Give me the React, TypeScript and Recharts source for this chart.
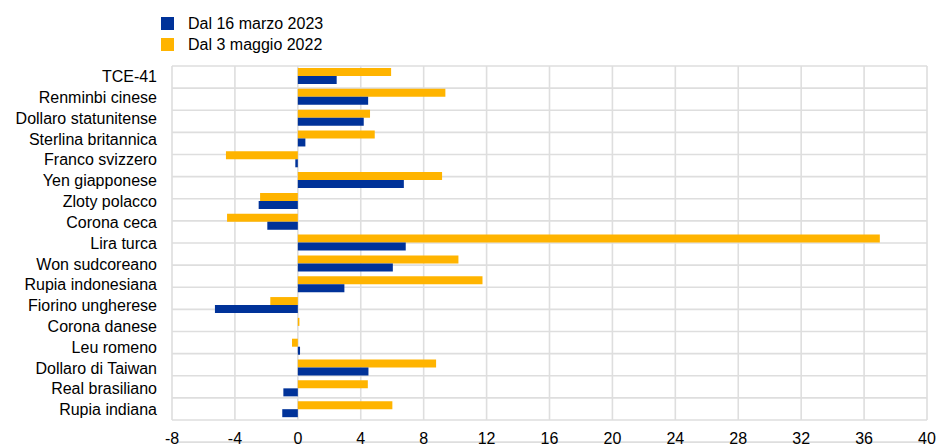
import { Bar, BarChart, CartesianGrid, XAxis, YAxis } from "recharts";

const categories = [
  "TCE-41",
  "Renminbi cinese",
  "Dollaro statunitense",
  "Sterlina britannica",
  "Franco svizzero",
  "Yen giapponese",
  "Zloty polacco",
  "Corona ceca",
  "Lira turca",
  "Won sudcoreano",
  "Rupia indonesiana",
  "Fiorino ungherese",
  "Corona danese",
  "Leu romeno",
  "Dollaro di Taiwan",
  "Real brasiliano",
  "Rupia indiana",
];

// since 16 March 2023
const sinceMarch2023 = [2.47, 4.47, 4.19, 0.48, -0.16, 6.74, -2.49, -1.94, 6.86, 6.04, 2.96, -5.27, 0.0, 0.14, 4.49, -0.92, -0.99];
// since 3 May 2022
const sinceMay2022 = [5.93, 9.38, 4.59, 4.89, -4.57, 9.17, -2.4, -4.5, 37.0, 10.21, 11.74, -1.75, 0.1, -0.37, 8.79, 4.45, 6.01];

const xTicks = [-8, -4, 0, 4, 8, 12, 16, 20, 24, 28, 32, 36, 40];
// category boundaries for the horizontal grid lines
const gridTicks = categories.map((_, i) => i).concat(categories.length);

const BLUE = "#003299";
const YELLOW = "#FFB400";
const GRID = "#dedede";
const FONT = "'Liberation Sans', Arial, sans-serif";

const data = categories.map((name, i) => ({
  name,
  march: sinceMarch2023[i],
  may: sinceMay2022[i],
}));

const legendItems = [
  { label: "Dal 16 marzo 2023", color: BLUE },
  { label: "Dal 3 maggio 2022", color: YELLOW },
];

export default function App() {
  return (
    <div style={{ position: "absolute", left: 0, top: 0, width: 936, height: 446, background: "#fff", fontFamily: FONT }}>
      <div style={{ position: "absolute", left: 161, top: 13, zIndex: 2 }}>
        {legendItems.map((item) => (
          <div key={item.label} style={{ display: "flex", alignItems: "center", height: 21, fontSize: 16, color: "#000" }}>
            <span style={{ display: "inline-block", width: 13, height: 13, background: item.color, marginRight: 14 }} />
            {item.label}
          </div>
        ))}
      </div>
      <BarChart
        width={936}
        height={446}
        data={data}
        layout="vertical"
        margin={{ top: 66, right: 9, bottom: 0, left: 0 }}
        barSize={8}
        barGap={0}
      >
        <CartesianGrid stroke={GRID} strokeWidth={1.6} horizontal={false} vertical={true} />
        <CartesianGrid stroke={GRID} strokeWidth={1.6} horizontal={true} vertical={false} yAxisId="grid" />
        <XAxis
          type="number"
          domain={[-8, 40]}
          ticks={xTicks}
          interval={0}
          axisLine={false}
          tickLine={false}
          tickSize={0}
          tickMargin={13}
          height={26}
          tick={{ fill: "#000", fontSize: 16, fontFamily: FONT }}
        />
        <YAxis
          type="category"
          dataKey="name"
          width={172}
          interval={0}
          axisLine={false}
          tickLine={false}
          tickSize={0}
          tickMargin={15}
          tick={{ fill: "#000", fontSize: 16, fontFamily: FONT }}
        />
        <YAxis
          yAxisId="grid"
          type="number"
          domain={[0, categories.length]}
          ticks={gridTicks}
          interval={0}
          hide
        />
        <Bar dataKey="may" fill={YELLOW} isAnimationActive={false} />
        <Bar dataKey="march" fill={BLUE} isAnimationActive={false} />
      </BarChart>
    </div>
  );
}
